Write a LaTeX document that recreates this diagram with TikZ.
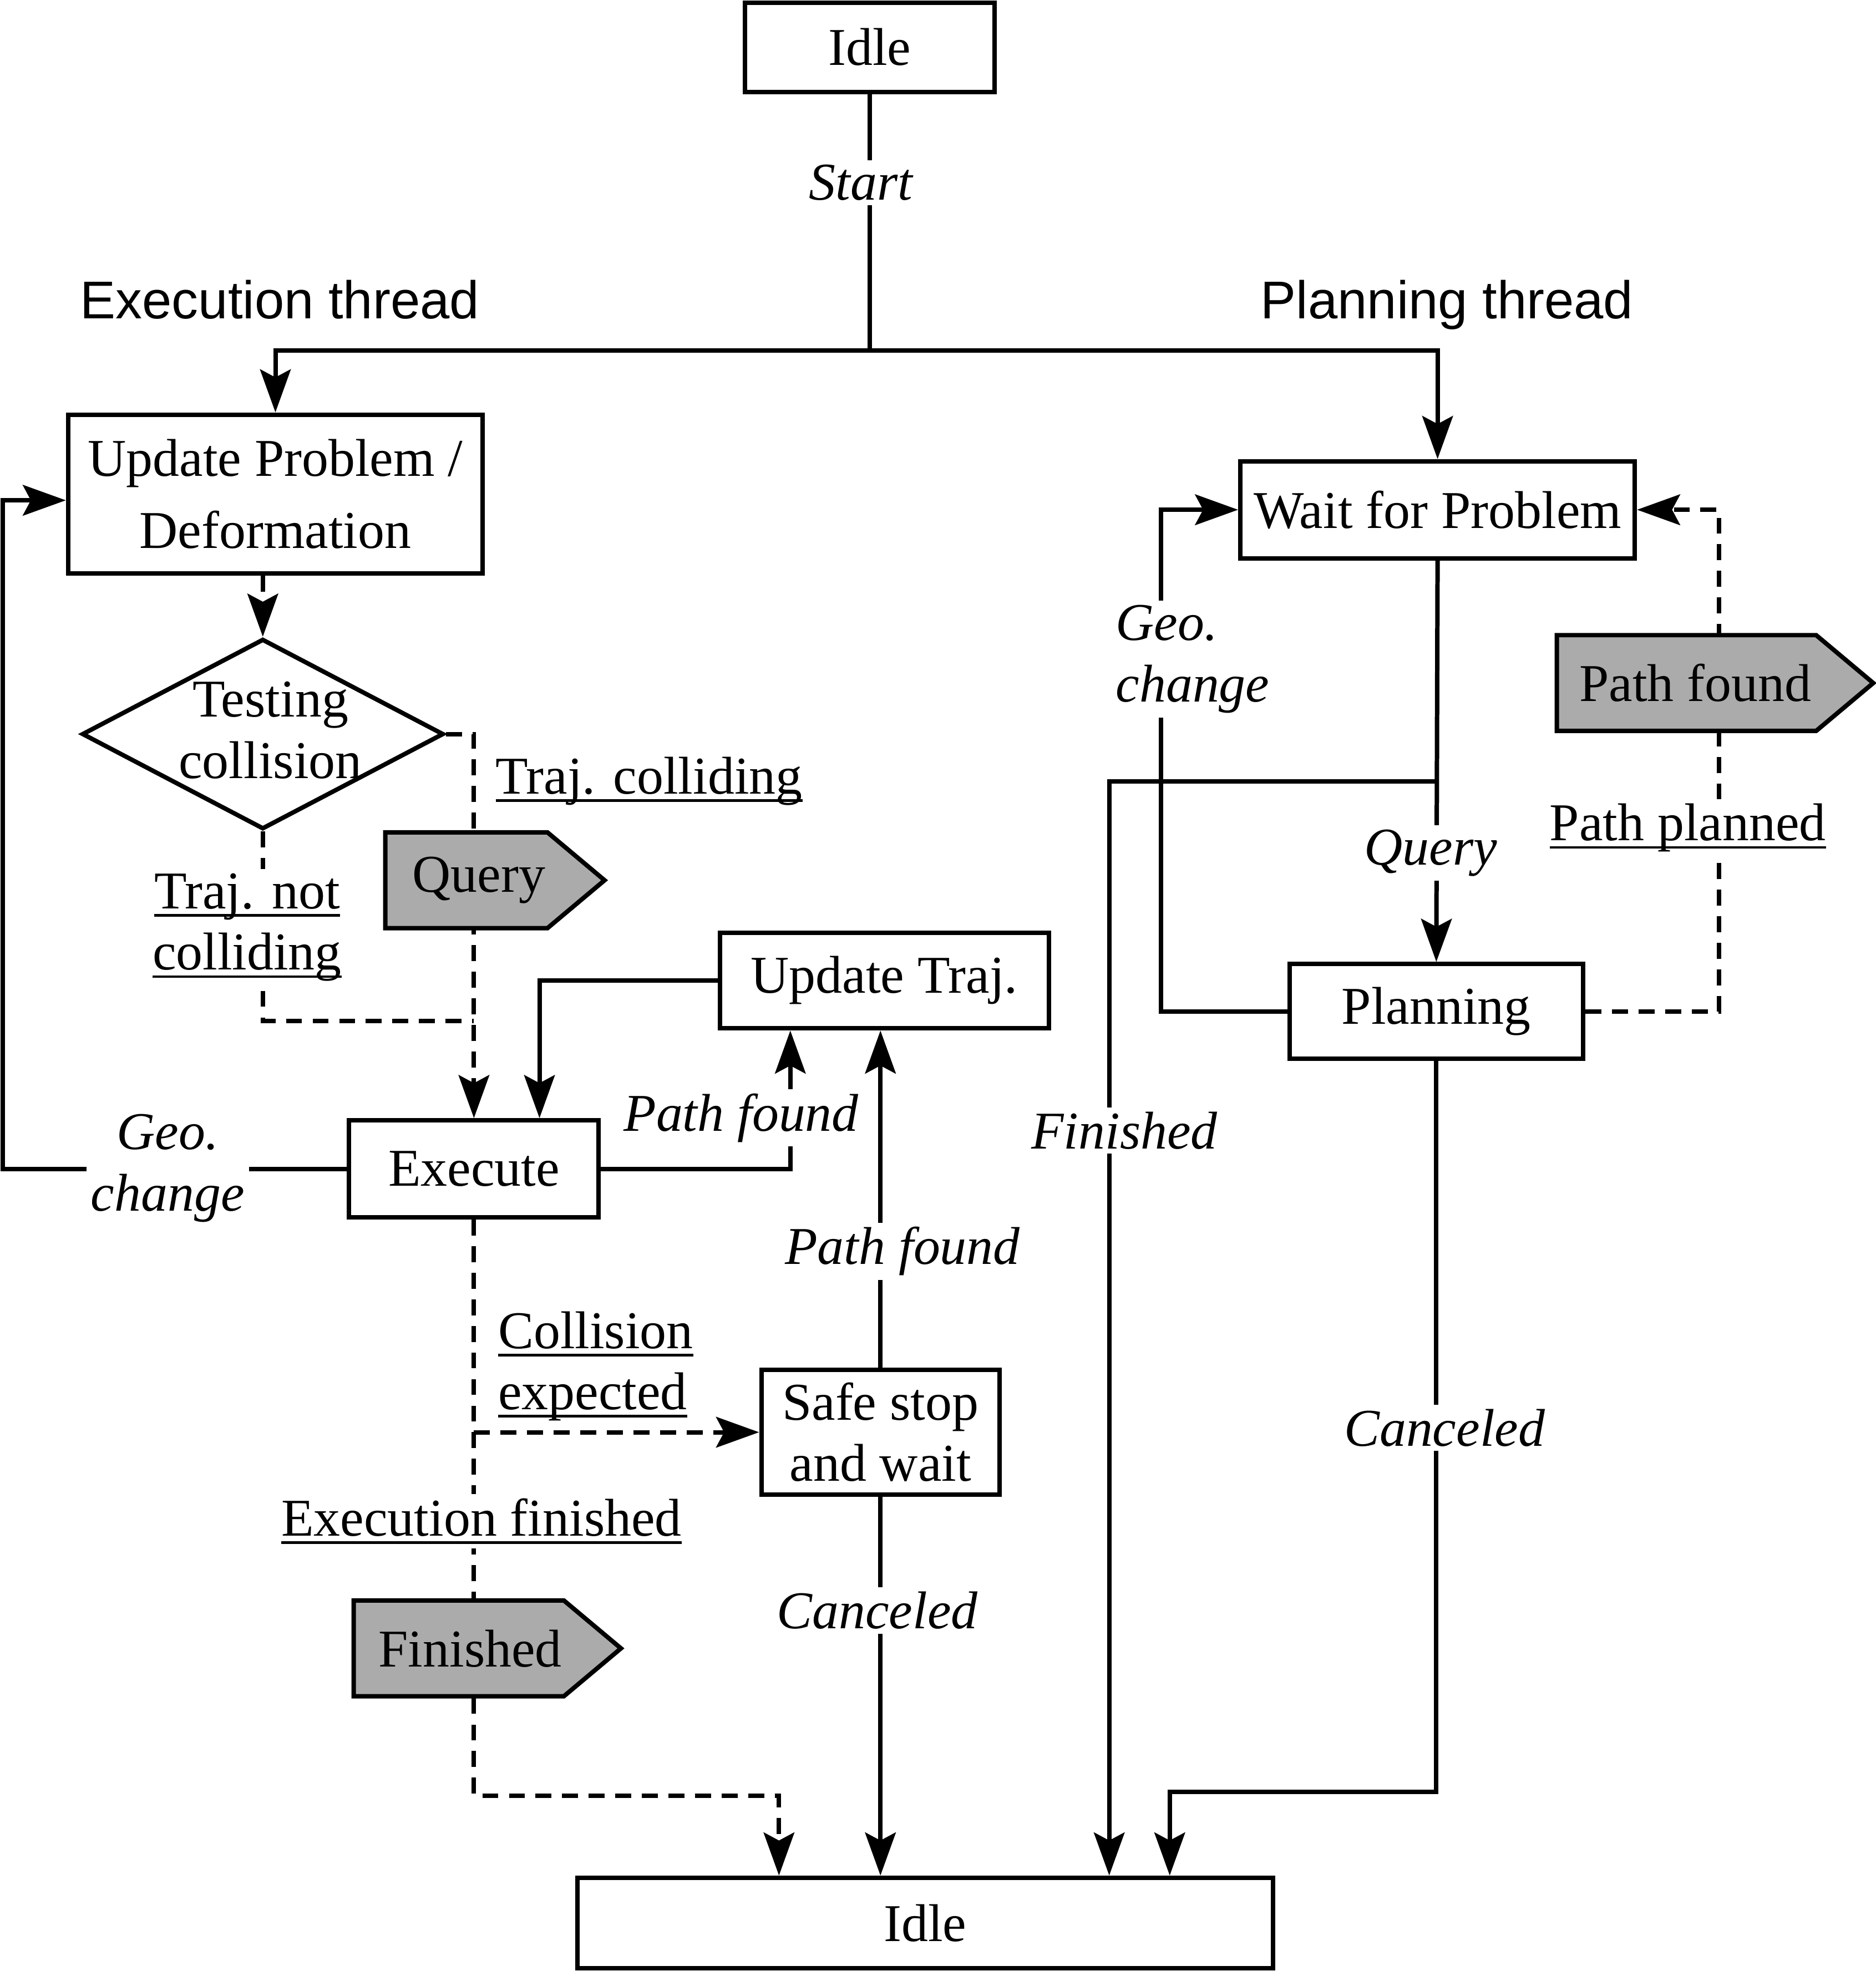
\documentclass[tikz,border=0pt]{standalone}
\usepackage{fontspec}
\setmainfont{Liberation Serif}
\newfontfamily\threadfont{Liberation Sans}
\usetikzlibrary{arrows.meta,shapes.geometric,shapes.symbols,backgrounds}

\newcommand{\ulbl}[1]{\leavevmode\setbox0=\hbox{#1}\rlap{\rule[-1.8pt]{\wd0}{0.6pt}}\box0}

\begin{document}
\begin{tikzpicture}[>={Stealth[length=9.7pt,width=6.9pt,inset=1.8pt]},line width=1pt,
  font=\fontsize{12}{13.8}\selectfont,
  state/.style={draw,inner sep=0pt,align=center},
  flag/.style={draw,fill=black!33,shape=signal,signal to=east,signal pointer angle=80,inner sep=0pt,minimum height=0.76cm},
  decision/.style={draw,shape=diamond,inner sep=0pt},
  event/.style={fill=white,inner sep=1pt,align=center,font=\fontsize{12}{14}\selectfont\itshape},
  guard/.style={fill=white,inner sep=1pt,align=center},
  heading/.style={anchor=base,font=\fontsize{12}{14}\selectfont\threadfont},
  dashflow/.style={->,dash pattern=on 3.6pt off 2.4pt}]
\useasboundingbox (0,0) rectangle (14.88,-15.68);
\node[state,minimum width=1.98cm,minimum height=0.71cm] (idleA) at (6.90,-0.375) {Idle};
\node[event] (start) at (6.83,-1.45) {Start};
\node[heading] (exTitle) at (2.22,-2.53) {Execution thread};
\node[heading] (plTitle) at (11.48,-2.53) {Planning thread};
\node[state,minimum width=3.29cm,minimum height=1.26cm,font=\fontsize{12}{16.2}\selectfont] (update) at (2.185,-3.92) {Update Problem /\\Deformation};
\node[decision,minimum width=2.87cm,minimum height=1.51cm,label={[align=center,xshift=0.6mm,yshift=0.3mm]center:{Testing\\collision}}] (test) at (2.085,-5.825) {};
\node[flag,minimum width=1.74cm] (query) at (3.70,-6.985) {\hspace*{2mm}Query};
\node[state,minimum width=2.61cm,minimum height=0.76cm] (updTraj) at (7.015,-7.78) {Update Traj.};
\node[state,minimum width=1.98cm,minimum height=0.77cm] (execute) at (3.76,-9.275) {Execute};
\node[state,minimum width=1.89cm,minimum height=0.99cm] (safe) at (6.985,-11.365) {Safe stop\\and wait};
\node[flag,minimum width=2.12cm] (finFlag) at (3.64,-13.08) {\hspace*{1.8mm}Finished};
\node[state,minimum width=5.52cm,minimum height=0.72cm] (idleB) at (7.34,-15.26) {Idle};
\node[state,minimum width=3.13cm,minimum height=0.77cm] (wait) at (11.405,-4.045) {Wait for Problem};
\node[state,minimum width=2.33cm,minimum height=0.75cm] (planning) at (11.395,-8.025) {Planning};
\node[flag,minimum width=2.51cm] (foundFlag) at (13.38,-5.42) {\hspace*{1.4mm}Path found};
% labels on the connectors
\node[guard,anchor=west] (colliding) at (3.88,-6.20) {\ulbl{Traj. colliding}};
\node[guard] (notColliding) at (1.96,-7.36) {\ulbl{Traj. not}\\\ulbl{colliding}};
\node[event] (foundA) at (5.88,-8.87) {Path found};
\node[event] (geoA) at (1.33,-9.27) {Geo.\\change};
\node[event] (foundB) at (7.16,-9.93) {Path found};
\node[guard,anchor=west,align=left] (collExp) at (3.90,-10.84) {\ulbl{Collision}\\\ulbl{expected}};
\node[guard] (execFin) at (3.82,-12.07) {\ulbl{Execution finished}};
\node[event] (cancelA) at (6.96,-12.78) {Canceled};
\node[event,align=left,anchor=west] (geoB) at (8.80,-5.23) {Geo.\\change};
\node[event] (queryB) at (11.35,-6.77) {Query};
\node[guard] (planned) at (13.39,-6.57) {\ulbl{Path planned}};
\node[event] (finB) at (8.92,-8.97) {Finished};
\node[event] (cancelB) at (11.46,-11.33) {Canceled};
\begin{scope}[on background layer,every path/.style={line width=1pt}]
\coordinate (split) at (6.90,-2.78);
\coordinate (notJoin) at (3.76,-8.10);
\coordinate (finCorner) at (3.76,-14.25);
\coordinate (loopTop) at (0.02,-3.97);
\coordinate (qSplit) at (11.40,-6.20);
\coordinate (canCorner) at (9.28,-14.22);
\draw (idleA) -- (split);
\draw[->] (split) -| (update.north);
\draw[->] (split) -| (wait.north);
\draw[dashflow] (update.south -| test.north) -- (test.north);
\draw[dashflow] (test.east) -| (execute.north);
\draw[dash pattern=on 3.6pt off 2.4pt] (test.south) |- (notJoin);
\draw[->] (updTraj.west) -| ([xshift=5.2mm]execute.north);
\draw[->] (execute.east) -| ([xshift=-7.45mm]updTraj.south);
\draw[->] (safe.north) -- (safe.north |- updTraj.south);
\draw[dashflow] (execute.south |- safe.west) -- (safe.west);
\draw[dashflow] (execute.south) -- (finCorner) -| ([xshift=-11.6mm]idleB.north);
\draw[->] (safe.south) -- (safe.south |- idleB.north);
\draw[->] (execute.west) -| (loopTop) -- (loopTop -| update.west);
\draw[->] (wait.south) -- (planning.north);
\draw[->] (qSplit) -| ([xshift=14.6mm]idleB.north);
\draw[->] (planning.west) -- ++(-1.0,0) |- (wait.west);
\draw[dashflow] (planning.east) -- ++(1.06,0) |- (wait.east);
\draw[->] (planning.south) |- (canCorner) -- (canCorner |- idleB.north);
\end{scope}
\end{tikzpicture}
\end{document}
